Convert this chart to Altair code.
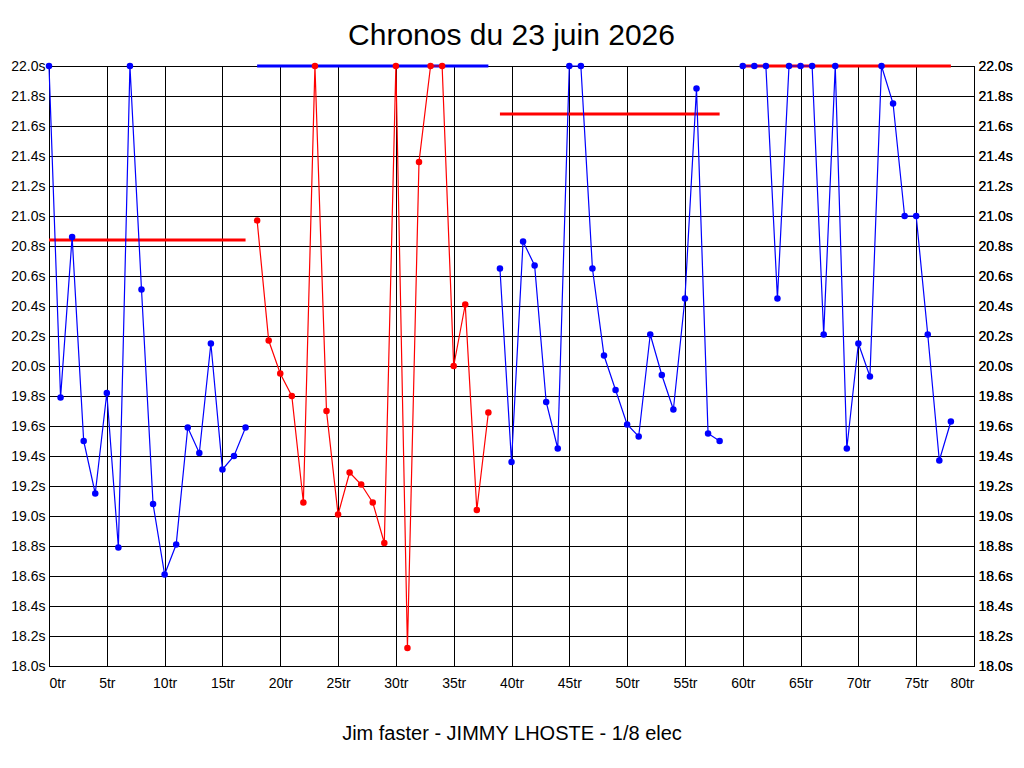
import altair as alt
import pandas as pd

# lap numbers and lap times (s) per run segment
seg1_laps = list(range(0, 18))
seg1_times = [22.00, 19.79, 20.86, 19.50, 19.15, 19.82, 18.79, 22.00, 20.51, 19.08,
              18.61, 18.81, 19.59, 19.42, 20.15, 19.31, 19.40, 19.59]
seg2_laps = list(range(18, 39))
seg2_times = [20.97, 20.17, 19.95, 19.80, 19.09, 22.00, 19.70, 19.01, 19.29, 19.21,
              19.09, 18.82, 22.00, 18.12, 21.36, 22.00, 22.00, 20.00, 20.41, 19.04, 19.69]
seg3_laps = list(range(39, 59))
seg3_times = [20.65, 19.36, 20.83, 20.67, 19.76, 19.45, 22.00, 22.00, 20.65, 20.07,
              19.84, 19.61, 19.53, 20.21, 19.94, 19.71, 20.45, 21.85, 19.55, 19.50]
seg4_laps = list(range(60, 79))
seg4_times = [22.00, 22.00, 22.00, 20.45, 22.00, 22.00, 22.00, 20.21, 22.00, 19.45,
              20.15, 19.93, 22.00, 21.75, 21.00, 21.00, 20.21, 19.37, 19.63]
seg_colors = ["#0000FF", "#FF0000", "#0000FF", "#0000FF"]

# average lines per segment
avg_start = [0, 18, 39, 60]
avg_end = [17, 38, 58, 78]
avg_value = [20.84, 22.00, 21.68, 22.00]
avg_colors = ["#FF0000", "#0000FF", "#FF0000", "#FF0000"]

x_ticks = list(range(0, 81, 5))
y_ticks = [18.0, 18.2, 18.4, 18.6, 18.8, 19.0, 19.2, 19.4, 19.6, 19.8, 20.0,
           20.2, 20.4, 20.6, 20.8, 21.0, 21.2, 21.4, 21.6, 21.8, 22.0]

rows = []
for i, (laps, times) in enumerate([(seg1_laps, seg1_times), (seg2_laps, seg2_times),
                                   (seg3_laps, seg3_times), (seg4_laps, seg4_times)]):
    for l, t in zip(laps, times):
        rows.append({"lap": l, "time": t, "seg": i, "color": seg_colors[i]})
df = pd.DataFrame(rows)
avg_df = pd.DataFrame({"x": avg_start, "x2": avg_end, "y": avg_value, "color": avg_colors})

xs = alt.Scale(domain=[0, 80], nice=False, zero=False)
ys = alt.Scale(domain=[18, 22], nice=False, zero=False)

x_axis = alt.Axis(values=x_ticks, labelExpr="datum.value + 'tr'", ticks=False,
                  labelPadding=10, title="Jim faster - JIMMY LHOSTE - 1/8 elec",
                  titleFontSize=20, titleFontWeight="normal", titlePadding=33,
                  grid=True)
y_axis_left = alt.Axis(values=y_ticks, labelExpr="format(datum.value, '.1f') + 's'",
                       ticks=False, labelPadding=4, title=None, grid=True)
y_axis_right = alt.Axis(values=y_ticks, labelExpr="format(datum.value, '.1f') + 's'",
                        ticks=False, labelPadding=4, title=None, grid=False, orient="right")

avg = alt.Chart(avg_df).mark_rule(strokeWidth=3).encode(
    x=alt.X("x:Q", scale=xs, axis=x_axis),
    x2="x2:Q",
    y=alt.Y("y:Q", scale=ys, axis=y_axis_left),
    color=alt.Color("color:N", scale=None),
)

lines = alt.Chart(df).mark_line(strokeWidth=1.2).encode(
    x=alt.X("lap:Q", scale=xs, axis=x_axis),
    y=alt.Y("time:Q", scale=ys, axis=y_axis_left),
    detail="seg:N",
    color=alt.Color("color:N", scale=None),
)

points = alt.Chart(df).mark_point(filled=True, size=42, opacity=1).encode(
    x=alt.X("lap:Q", scale=xs, axis=x_axis),
    y=alt.Y("time:Q", scale=ys, axis=y_axis_right),
    color=alt.Color("color:N", scale=None),
)

chart = alt.layer(avg, lines, points).resolve_axis(y="independent").properties(
    width=925,
    height=600,
    autosize=alt.AutoSizeParams(type="none"),
    padding={"left": 41, "top": 58, "right": 42, "bottom": 94},
    title=alt.Title("Chronos du 23 juin 2026", fontSize=30, fontWeight="normal",
                    anchor="middle", color="black", offset=8),
    background="white",
).configure(
    font="Liberation Sans",
).configure_view(
    stroke="black", strokeWidth=1,
).configure_axis(
    domainColor="black", domainWidth=1, gridColor="black", gridOpacity=1, gridWidth=1,
    labelColor="black", labelFontSize=14, titleColor="black", labelFont="Liberation Sans",
    titleFont="Liberation Sans",
)

chart.save("out.html", embed_options={"renderer": "svg", "actions": False})
